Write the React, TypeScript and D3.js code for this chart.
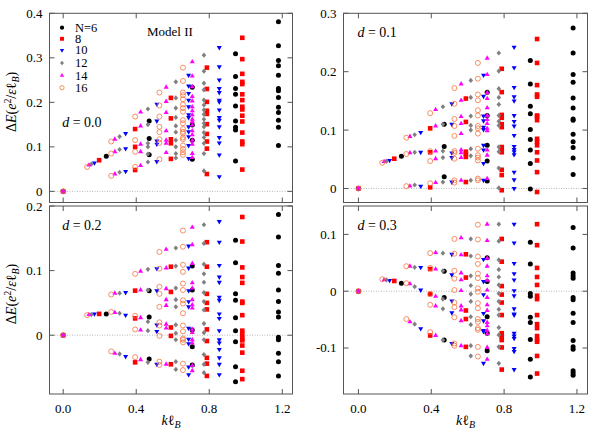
import React from "react";
import * as d3 from "d3";

// k values (k l_B) of each system size
const sizes = [6, 8, 10, 12, 14, 16];
const kN6 = [0, 0.236, 0.471, 0.707, 0.944, 1.179];
const kN8 = [0, 0.197, 0.394, 0.59, 0.787, 0.981];
const kN10 = [0, 0.171, 0.342, 0.513, 0.687, 0.855];
const kN12 = [0, 0.154, 0.309, 0.464, 0.617, 0.771];
const kN14 = [0, 0.141, 0.283, 0.424, 0.564, 0.707];
const kN16 = [0, 0.131, 0.263, 0.394, 0.527, 0.656];

// energies per k column, d = 0.0
const d00N6 = [[0], [0.079], [0.158, 0.119, 0.082], [0.234, 0.149, 0.115, 0.072], [0.309, 0.258, 0.231, 0.218, 0.192, 0.158, 0.144, 0.138, 0.068], [0.381, 0.327, 0.294, 0.282, 0.261, 0.231, 0.226, 0.211, 0.189, 0.177, 0.16, 0.144, 0.103]];
const d00N8 = [[0], [0.07], [0.14, 0.1, 0.048], [0.21, 0.164, 0.117, 0.108, 0.073], [0.278, 0.23, 0.201, 0.181, 0.174, 0.151, 0.129, 0.112, 0.096, 0.039], [0.345, 0.297, 0.264, 0.246, 0.241, 0.218, 0.205, 0.19, 0.184, 0.17, 0.157, 0.132, 0.112, 0.106, 0.049]];
const d00N10 = [[0], [0.064], [0.13, 0.096, 0.045], [0.196, 0.158, 0.113, 0.106, 0.067], [0.261, 0.237, 0.22, 0.205, 0.19, 0.172, 0.166, 0.145, 0.134, 0.123, 0.103, 0.074], [0.323, 0.28, 0.25, 0.231, 0.222, 0.205, 0.201, 0.183, 0.166, 0.16, 0.145, 0.121, 0.109, 0.082, 0.033]];
const d00N12 = [[0], [0.061], [0.123, 0.094, 0.043], [0.185, 0.15, 0.108, 0.1, 0.084, 0.066], [0.246, 0.21, 0.187, 0.166, 0.147, 0.133, 0.115, 0.1, 0.085, 0.075], [0.306, 0.27, 0.243, 0.228, 0.205, 0.194, 0.183, 0.173, 0.162, 0.153, 0.145, 0.132, 0.121, 0.108, 0.085, 0.046]];
const d00N14 = [[0], [0.059], [0.117, 0.089, 0.039], [0.178, 0.147, 0.106, 0.089, 0.058], [0.234, 0.202, 0.177, 0.136, 0.115, 0.108, 0.087], [0.291, 0.259, 0.235, 0.213, 0.203, 0.19, 0.181, 0.172, 0.162, 0.157, 0.149, 0.136, 0.127, 0.115, 0.106, 0.085, 0.076]];
const d00N16 = [[0], [0.055], [0.112, 0.085, 0.035], [0.168, 0.115, 0.089, 0.055], [0.222, 0.193, 0.168, 0.145, 0.133, 0.117, 0.109, 0.072], [0.278, 0.248, 0.222, 0.216, 0.207, 0.195, 0.187, 0.179, 0.16, 0.153, 0.14, 0.134, 0.13, 0.121, 0.117, 0.103, 0.095, 0.088, 0.082]];

// d = 0.1
const d01N6 = [[0], [0.055], [0.11, 0.072, 0.02], [0.165, 0.125, 0.074, 0.047, 0.013], [0.219, 0.179, 0.141, 0.128, 0.101, 0.084, 0.066, 0.043, -0.001], [0.275, 0.232, 0.195, 0.182, 0.155, 0.138, 0.119, 0.117, 0.093, 0.08, 0.07, 0.052, 0.024]];
const d01N8 = [[0], [0.051], [0.103, 0.062, 0.002], [0.154, 0.114, 0.063, 0.059, 0.054, 0.011], [0.205, 0.165, 0.126, 0.121, 0.11, 0.105, 0.071, 0.066, 0.062, 0.032, 0.023, -0.003], [0.256, 0.215, 0.177, 0.161, 0.157, 0.125, 0.123, 0.117, 0.085, 0.08, 0.074, 0.062, 0.048, 0.028, -0.006]];
const d01N10 = [[0], [0.048], [0.096, 0.062, 0.004], [0.145, 0.11, 0.061, 0.053, 0.011], [0.194, 0.158, 0.124, 0.116, 0.105, 0.101, 0.074, 0.066, 0.043, 0.014], [0.242, 0.207, 0.173, 0.157, 0.15, 0.125, 0.115, 0.107, 0.091, 0.072, 0.067, 0.063, 0.058, 0.028, 0.015, 0.0]];
const d01N12 = [[0], [0.047], [0.092, 0.062, 0.006], [0.14, 0.11, 0.064, 0.053, 0.011], [0.185, 0.156, 0.124, 0.108, 0.1, 0.068, 0.056, 0.014], [0.232, 0.201, 0.171, 0.156, 0.144, 0.125, 0.115, 0.108, 0.071, 0.063, 0.035, 0.001]];
const d01N14 = [[0], [0.046], [0.089, 0.061, 0.004], [0.135, 0.107, 0.064, 0.051, 0.01], [0.179, 0.151, 0.123, 0.111, 0.094, 0.066, 0.061, 0.053, 0.014], [0.223, 0.195, 0.164, 0.154, 0.138, 0.125, 0.118, 0.111, 0.103, 0.099, 0.066, 0.057, 0.017]];
const d01N16 = [[0], [0.044], [0.087, 0.059, 0.004], [0.129, 0.064, 0.047, 0.009], [0.172, 0.145, 0.119, 0.107, 0.09, 0.064, 0.061, 0.051, 0.014, 0.01], [0.215, 0.188, 0.161, 0.151, 0.134, 0.125, 0.107, 0.103, 0.094, 0.068, 0.057, 0.053, 0.048, 0.017, 0.014]];

// d = 0.2
const d02N6 = [[0], [0.033], [0.069, 0.028, -0.037], [0.107, 0.07, 0.008, -0.018, -0.046], [0.147, 0.112, 0.064, 0.054, 0.027, 0.007, -0.01, -0.049, -0.072], [0.187, 0.152, 0.108, 0.096, 0.07, 0.052, 0.036, 0.028, -0.003, -0.007, -0.028, -0.041, -0.063]];
const d02N8 = [[0], [0.033], [0.069, 0.026, -0.042], [0.106, 0.067, 0.012, -0.001, -0.045], [0.144, 0.106, 0.064, 0.05, 0.04, 0.009, -0.009, -0.035, -0.044, -0.063], [0.183, 0.145, 0.105, 0.09, 0.081, 0.052, 0.05, 0.031, 0.007, 0.001, -0.005, -0.008, -0.016, -0.027, -0.055, -0.068]];
const d02N10 = [[0], [0.033], [0.066, 0.031, -0.033], [0.103, 0.069, 0.016, 0.006, -0.045], [0.138, 0.104, 0.069, 0.052, 0.044, 0.011, -0.006, -0.013, -0.049, -0.061], [0.176, 0.144, 0.108, 0.09, 0.082, 0.059, 0.054, 0.033, 0.026, 0.007, -0.007, -0.012, -0.022, -0.035, -0.045, -0.061]];
const d02N12 = [[0], [0.032], [0.065, 0.034, -0.029], [0.102, 0.07, 0.021, 0.007, -0.042], [0.135, 0.107, 0.073, 0.055, 0.044, 0.016, 0.003, -0.007, -0.041, -0.053], [0.171, 0.142, 0.11, 0.095, 0.082, 0.066, 0.052, 0.039, 0.018, 0.004, -0.007, -0.03, -0.045, -0.058]];
const d02N14 = [[0], [0.032], [0.065, 0.035, -0.028], [0.099, 0.07, 0.027, 0.008, -0.038], [0.133, 0.104, 0.072, 0.055, 0.046, 0.017, 0.011, -0.045], [0.167, 0.14, 0.111, 0.081, 0.073, 0.055, 0.047, 0.042, 0.009, 0.004, -0.007, -0.012, -0.047, -0.055]];
const d02N16 = [[0], [0.031], [0.063, 0.036, -0.025], [0.095, 0.03, 0.009, -0.034], [0.129, 0.103, 0.075, 0.064, 0.044, 0.02, 0.015, -0.001, -0.041, -0.046], [0.162, 0.137, 0.109, 0.098, 0.08, 0.07, 0.054, 0.049, 0.034, 0.015, 0.006, -0.005, -0.007, -0.011, -0.044, -0.054]];

// d = 0.3
const d03N6 = [[0], [0.014], [0.035, -0.011, -0.086], [0.059, 0.017, -0.045, -0.074, -0.105], [0.086, 0.048, -0.004, -0.009, -0.046, -0.055, -0.085, -0.12, -0.151], [0.112, 0.076, 0.032, 0.027, 0.023, -0.011, -0.015, -0.039, -0.055, -0.087, -0.098, -0.102, -0.14, -0.144, -0.148]];
const d03N8 = [[0], [0.018], [0.039, -0.005, -0.078], [0.065, 0.024, -0.034, -0.049, -0.098], [0.092, 0.052, 0.009, -0.006, -0.02, -0.042, -0.074, -0.08, -0.086, -0.099, -0.138], [0.118, 0.081, 0.041, 0.025, 0.011, -0.008, -0.014, -0.042, -0.058, -0.065, -0.079, -0.085, -0.089, -0.114, -0.145]];
const d03N10 = [[0], [0.019], [0.042, 0.002, -0.066], [0.065, 0.029, -0.017, -0.038, -0.092], [0.056, 0.017, -0.006, -0.039, -0.052, -0.069, -0.071, -0.127], [0.118, 0.085, 0.049, 0.031, 0.02, 0.001, -0.008, -0.031, -0.04, -0.042, -0.074, -0.079, -0.083, -0.101, -0.106, -0.138]];
const d03N12 = [[0], [0.02], [0.042, 0.008, -0.058], [0.067, 0.036, -0.014, -0.031, -0.086], [0.092, 0.062, 0.027, 0.01, -0.005, -0.018, -0.045, -0.059, -0.096, -0.114], [0.118, 0.088, 0.055, 0.038, 0.025, 0.011, -0.004, -0.018, -0.032, -0.042, -0.064, -0.077, -0.098, -0.127]];
const d03N14 = [[0], [0.02], [0.044, 0.013, -0.054], [0.068, 0.039, -0.009, -0.026, -0.078], [0.094, 0.064, 0.032, 0.02, 0.001, -0.026, -0.033, -0.052, -0.096], [0.118, 0.089, 0.058, 0.044, 0.027, 0.019, 0.002, -0.011, -0.024, -0.034, -0.055, -0.061, -0.069, -0.075, -0.099, -0.12]];
const d03N16 = [[0], [0.021], [0.044, 0.014, -0.049], [0.067, 0.041, -0.005, -0.024, -0.072], [0.092, 0.066, 0.036, 0.022, 0.002, -0.02, -0.028, -0.046, -0.092, -0.096], [0.117, 0.091, 0.061, 0.048, 0.031, 0.023, 0.005, -0.001, -0.021, -0.03, -0.049, -0.054, -0.065, -0.068, -0.098, -0.115]];

const kGrid = [kN6, kN8, kN10, kN12, kN14, kN16];
const xTicks = [0, 0.4, 0.8, 1.2];
const legendLabels = ["N=6", "8", "10", "12", "14", "16"];

const panels = [
  { d: "0.0", sets: [d00N6, d00N8, d00N10, d00N12, d00N14, d00N16], yDomain: [-0.025, 0.4], yTicks: [0, 0.1, 0.2, 0.3, 0.4], col: 0, row: 0 },
  { d: "0.1", sets: [d01N6, d01N8, d01N10, d01N12, d01N14, d01N16], yDomain: [-0.024, 0.3], yTicks: [0, 0.1, 0.2, 0.3], col: 1, row: 0 },
  { d: "0.2", sets: [d02N6, d02N8, d02N10, d02N12, d02N14, d02N16], yDomain: [-0.091, 0.2], yTicks: [0, 0.1, 0.2], col: 0, row: 1 },
  { d: "0.3", sets: [d03N6, d03N8, d03N10, d03N12, d03N14, d03N16], yDomain: [-0.181, 0.15], yTicks: [-0.1, 0, 0.1], col: 1, row: 1 },
];

const colX = [
  { range: [49.5, 292.5], domain: [-0.075, 1.256] },
  { range: [343.5, 587.5], domain: [-0.082, 1.258] },
];
const rowY = [
  { range: [202.5, 13.3] },
  { range: [394, 206] },
];

const serif = "'Liberation Serif', 'DejaVu Serif', serif";
const frameColor = "#555";

const triUp = d3.symbol(d3.symbolTriangle, 11)()!;
const diamond = "M0,-2.6L2.3,0L0,2.6L-2.3,0Z";

function Marker({ i, x, y, s = 1 }: { i: number; x: number; y: number; s?: number }) {
  const tr = `translate(${x},${y}) scale(${s})`;
  switch (i) {
    case 0:
      return <circle cx={x} cy={y} r={2.5 * s} fill="#000" />;
    case 1:
      return <rect x={x - 2.3 * s} y={y - 2.3 * s} width={4.6 * s} height={4.6 * s} fill="#ff0000" />;
    case 2:
      return <path d={triUp} transform={`${tr} rotate(180)`} fill="#0000ff" />;
    case 3:
      return <path d={diamond} transform={tr} fill="#808080" />;
    case 4:
      return <path d={triUp} transform={tr} fill="#ff00ff" />;
    default:
      return <circle cx={x} cy={y} r={2.5 * s} fill="none" stroke="#f4733f" strokeWidth={0.8} />;
  }
}

function Panel({ p }: { p: (typeof panels)[number] }) {
  const cx = colX[p.col];
  const ry = rowY[p.row];
  const x = d3.scaleLinear().domain(cx.domain).range(cx.range);
  const y = d3.scaleLinear().domain(p.yDomain).range(ry.range);
  const [x0, x1] = cx.range;
  const [yb, yt] = ry.range;
  const fmtY = (v: number) => (v === 0 ? "0" : d3.format(".1f")(v).replace("−", "-"));
  return (
    <g>
      <line x1={x0} x2={x1} y1={y(0)} y2={y(0)} stroke="#999" strokeWidth={0.7} strokeDasharray="1,1.5" />
      {p.sets.map((set, i) =>
        set.map((col, j) =>
          col.map((e, m) => <Marker key={`${i}-${j}-${m}`} i={i} x={x(kGrid[i][j])} y={y(e)} />)
        )
      )}
      <rect x={x0} y={yt} width={x1 - x0} height={yb - yt} fill="none" stroke={frameColor} strokeWidth={1} />
      {xTicks.map((t) => (
        <g key={t}>
          <line x1={x(t)} x2={x(t)} y1={yb} y2={yb - 5} stroke={frameColor} />
          <line x1={x(t)} x2={x(t)} y1={yt} y2={yt + 5} stroke={frameColor} />
          {p.row === 1 && (
            <text x={x(t)} y={413} textAnchor="middle" fontSize={13} fontFamily={serif}>
              {d3.format(".1f")(t)}
            </text>
          )}
        </g>
      ))}
      {p.yTicks.map((t) => (
        <g key={t}>
          <line x1={x0} x2={x0 + 5} y1={y(t)} y2={y(t)} stroke={frameColor} />
          <line x1={x1} x2={x1 - 5} y1={y(t)} y2={y(t)} stroke={frameColor} />
          <text x={x0 - 7} y={y(t) + 4.5} textAnchor="end" fontSize={13} fontFamily={serif}>
            {fmtY(t)}
          </text>
        </g>
      ))}
      <text x={x(0) - 1} y={p.row === 0 && p.col === 0 ? 127 : yt + 24} fontSize={14} fontFamily={serif}>
        <tspan fontStyle="italic">d</tspan>
        <tspan> = {p.d}</tspan>
      </text>
      {p.row === 1 && (
        <text x={(x0 + x1) / 2} y={425} textAnchor="middle" fontSize={14} fontFamily={serif}>
          <tspan fontStyle="italic">k</tspan>
          <tspan>ℓ</tspan>
          <tspan fontStyle="italic" fontSize={10} dy={3}>B</tspan>
        </text>
      )}
      {p.col === 0 && (
        <text transform={`translate(16,${(yb + yt) / 2 - 6}) rotate(-90)`} textAnchor="middle" fontSize={14} fontFamily={serif}>
          <tspan>Δ</tspan>
          <tspan fontStyle="italic">E</tspan>
          <tspan>(</tspan>
          <tspan fontStyle="italic">e</tspan>
          <tspan fontSize={10} dy={-5}>2</tspan>
          <tspan dy={5}>/</tspan>
          <tspan fontStyle="italic">ε</tspan>
          <tspan>ℓ</tspan>
          <tspan fontStyle="italic" fontSize={10} dy={3}>B</tspan>
          <tspan dy={-3}>)</tspan>
        </text>
      )}
    </g>
  );
}

function Legend() {
  const rows = [27.7, 38.8, 50.3, 63, 75.5, 87.7];
  return (
    <g>
      {legendLabels.map((lab, i) => (
        <g key={lab}>
          <Marker i={i} x={62} y={rows[i]} s={0.85} />
          <text x={75} y={rows[i] + 4} fontSize={12.5} fontFamily={serif}>
            {lab}
          </text>
        </g>
      ))}
      <text x={147} y={36} fontSize={13} fontFamily={serif}>
        Model II
      </text>
    </g>
  );
}

export default function App() {
  return (
    <svg width={590} height={430} style={{ position: "absolute", left: 0, top: 0, background: "#fff" }}>
      {panels.map((p) => (
        <Panel key={p.d} p={p} />
      ))}
      <Legend />
    </svg>
  );
}
